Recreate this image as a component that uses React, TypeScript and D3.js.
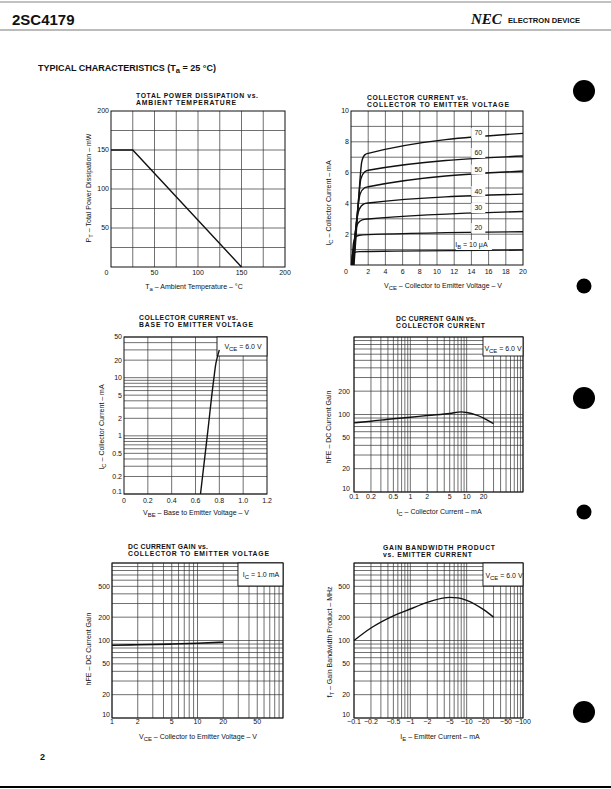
import React from 'react';
import * as d3 from 'd3';

const FONT = '"Liberation Sans", Arial, Helvetica, sans-serif';
const INK = '#111';
const GRID = '#333';

// ---------- 1: Total power dissipation vs ambient temperature ----------
const pdTemp = [0, 25, 150];
const pdPower = [150, 150, 0];
const pdXTicks = [0, 50, 100, 150, 200];
const pdYTicks = [50, 100, 150, 200];

// ---------- 2: Collector current vs collector-emitter voltage ----------
const ib10V = [0.05, 0.15, 0.4, 1, 5, 20];
const ib10I = [0, 0.65, 0.82, 0.87, 0.9, 0.97];
const ib20V = [0.1, 0.3, 0.6, 1, 2, 20];
const ib20I = [0, 1.45, 1.85, 1.93, 1.97, 2.16];
const ib30V = [0.15, 0.45, 0.8, 1.3, 2, 20];
const ib30I = [0, 1.9, 2.7, 2.93, 2.99, 3.47];
const ib40V = [0.2, 0.55, 0.95, 1.5, 2, 20];
const ib40I = [0, 2.4, 3.6, 3.97, 4.03, 4.6];
const ib50V = [0.25, 0.65, 1.05, 1.55, 2, 20];
const ib50I = [0, 2.9, 4.6, 5.0, 5.08, 6.1];
const ib60V = [0.3, 0.75, 1.15, 1.6, 2, 20];
const ib60I = [0, 3.4, 5.6, 6.05, 6.15, 7.08];
const ib70V = [0.35, 0.85, 1.25, 1.6, 2, 20];
const ib70I = [0, 4.0, 6.7, 7.15, 7.25, 8.55];
const ibNames = ['10', '20', '30', '40', '50', '60', '70'];
const ibLabelI = [1.3, 2.4, 3.7, 4.8, 6.2, 7.27, 8.57];
const vceXTicks = [0, 2, 4, 6, 8, 10, 12, 14, 16, 18, 20];
const icYTicks = [2, 4, 6, 8, 10];

// ---------- 3: Collector current vs base-emitter voltage ----------
const vbeV = [0.642, 0.7, 0.755, 0.772, 0.8];
const vbeIc = [0.1, 1.05, 10, 18, 30];
const vbeXTicks = [0, 0.2, 0.4, 0.6, 0.8, 1.0, 1.2];
const vbeXLabels = ['0', '0.2', '0.4', '0.6', '0.8', '1.0', '1.2'];
const vbeYTicks = [0.1, 0.2, 0.5, 1, 2, 5, 10, 20, 50];

// ---------- 4: DC current gain vs collector current ----------
const hfeIc = [0.1, 0.2, 0.5, 1, 2, 5, 8, 10, 15, 20, 30];
const hfeIcGain = [78, 82, 88, 92, 97, 103, 108, 106, 98, 90, 76];
const hfeIcXTicks = [0.1, 0.2, 0.5, 1, 2, 5, 10, 20];
const hfeIcYTicks = [10, 20, 50, 100, 200];

// ---------- 5: DC current gain vs collector-emitter voltage ----------
const hfeVce = [1, 2, 5, 10, 20];
const hfeVceGain = [87, 88, 90, 92, 95];
const hfeVceXTicks = [1, 2, 5, 10, 20, 50];
const hfeVceYTicks = [10, 20, 50, 100, 200, 500];

// ---------- 6: Gain bandwidth product vs emitter current ----------
const ftIe = [0.1, 0.2, 0.5, 1, 2, 4, 5, 7, 10, 20, 30];
const ftMHz = [100, 145, 208, 255, 310, 355, 360, 355, 330, 250, 200];
const ftXTicks = [0.1, 0.2, 0.5, 1, 2, 5, 10, 20, 50, 100];
const ftYTicks = [10, 20, 50, 100, 200, 500];

// ---------- helpers ----------
function logGrid(a: number, b: number) {
  const out: number[] = [];
  for (let e = Math.floor(Math.log10(a)); e <= Math.ceil(Math.log10(b)); e++) {
    for (let k = 1; k < 10; k++) {
      const v = k * Math.pow(10, e);
      if (v >= a * 0.999 && v <= b * 1.001) out.push(v);
    }
  }
  return out;
}
function linGrid(a: number, b: number, step: number) {
  return d3.range(a, b + step / 2, step);
}
const fmt = (v: number) => String(v);

type Part = string | { sub: string };
function Rich({ parts, fs }: { parts: Part[]; fs: number }) {
  const out: any[] = [];
  let down = false;
  parts.forEach((p, i) => {
    if (typeof p === 'string') {
      out.push(
        <tspan key={i} dy={down ? -fs * 0.25 : undefined}>
          {p}
        </tspan>
      );
      down = false;
    } else {
      out.push(
        <tspan key={i} fontSize={fs * 0.85} dy={fs * 0.25}>
          {p.sub}
        </tspan>
      );
      down = true;
    }
  });
  return <>{out}</>;
}

function Panel(p: any) {
  const { x, y, xGrid, yGrid } = p;
  const [xl, xr] = x.range();
  const [yb, yt] = y.range();
  const nY = p.yTicks.length;
  return (
    <g>
      {xGrid.map((v: number, i: number) => (
        <line key={'gx' + i} x1={x(v)} x2={x(v)} y1={yt} y2={yb} stroke={GRID} strokeWidth={0.7} />
      ))}
      {yGrid.map((v: number, i: number) => (
        <line key={'gy' + i} x1={xl} x2={xr} y1={y(v)} y2={y(v)} stroke={GRID} strokeWidth={0.7} />
      ))}
      <rect x={xl} y={yt} width={xr - xl} height={yb - yt} fill="none" stroke={INK} strokeWidth={1} />
      {p.children}
      {p.xTicks.map((v: number, i: number) => (
        <text key={'xt' + i} x={x(v) + (i === 0 ? p.x0dx || 0 : 0)} y={p.xTickY} dy="0.35em" textAnchor="middle" fontSize={7}>
          {p.xLabels ? p.xLabels[i] : fmt(v)}
        </text>
      ))}
      {p.yTicks.map((v: number, i: number) => (
        <text
          key={'yt' + i}
          x={p.yTickX}
          y={y(v) - (p.liftBottom && y(v) >= yb - 0.5 ? p.liftBottom : 0)}
          dy="0.35em"
          textAnchor="end"
          fontSize={7}
        >
          {p.yLabels ? p.yLabels[i] : fmt(v)}
        </text>
      ))}
      {p.title.map((t: [string, number], i: number) => (
        <text key={'ti' + i} x={p.titleX} y={p.titleY + i * 7} fontSize={6.8} fontWeight="bold" textLength={t[1]} lengthAdjust="spacing">
          {t[0]}
        </text>
      ))}
      <text transform={`translate(${p.yLabelX},${p.yLabelY}) rotate(-90)`} dy="0.35em" textAnchor="middle" fontSize={7}>
        <Rich parts={p.yLabel} fs={7} />
      </text>
      <text x={p.xLabelX} y={p.xLabelY} dy="0.35em" textAnchor="middle" fontSize={7}>
        <Rich parts={p.xLabel} fs={7} />
      </text>
    </g>
  );
}

function LegendBox({ x0, y0, x1, y1, parts, cx, cy }: any) {
  return (
    <g>
      <rect x={x0} y={y0} width={x1 - x0} height={y1 - y0} fill="#fff" stroke={INK} strokeWidth={0.9} />
      <text x={cx} y={cy} dy="0.35em" textAnchor="middle" fontSize={7}>
        <Rich parts={parts} fs={7} />
      </text>
    </g>
  );
}

export default function App() {
  // Chart 1
  const x1 = d3.scaleLinear().domain([0, 200]).range([111, 285]);
  const y1 = d3.scaleLinear().domain([0, 200]).range([267, 111]);
  const line1 = d3.line<number>().x((d, i) => x1(pdTemp[i])).y((d) => y1(d));

  // Chart 2
  const x2 = d3.scaleLinear().domain([0, 20]).range([351, 523]);
  const y2 = d3.scaleLinear().domain([0, 10]).range([265, 111]);
  const ibCurves = [
    [ib10V, ib10I],
    [ib20V, ib20I],
    [ib30V, ib30I],
    [ib40V, ib40I],
    [ib50V, ib50I],
    [ib60V, ib60I],
    [ib70V, ib70I],
  ];
  const mk2 = (vs: number[], is: number[]) =>
    d3
      .line<number>()
      .x((d, i) => x2(vs[i]))
      .y((d) => y2(d))
      .curve(d3.curveMonotoneX)(is);

  // Chart 3
  const x3 = d3.scaleLinear().domain([0, 1.2]).range([124, 267]);
  const y3 = d3.scaleLog().domain([0.1, 50]).range([494, 337]);
  const line3 = d3
    .line<number>()
    .x((d) => x3(d))
    .y((d, i) => y3(vbeIc[i]))
    .curve(d3.curveMonotoneY);

  // Chart 4
  const x4 = d3.scaleLog().domain([0.1, 100]).range([354, 523]);
  const y4 = d3.scaleLog().domain([10, 1000]).range([492, 337]);
  const line4 = d3
    .line<number>()
    .x((d, i) => x4(hfeIc[i]))
    .y((d) => y4(d))
    .curve(d3.curveMonotoneX);

  // Chart 5
  const x5 = d3.scaleLog().domain([1, 100]).range([112, 283]);
  const y5 = d3.scaleLog().domain([10, 1000]).range([718, 563]);
  const line5 = d3
    .line<number>()
    .x((d, i) => x5(hfeVce[i]))
    .y((d) => y5(d))
    .curve(d3.curveMonotoneX);

  // Chart 6
  const x6 = d3.scaleLog().domain([0.1, 100]).range([354, 523]);
  const y6 = d3.scaleLog().domain([10, 1000]).range([718, 563]);
  const line6 = d3
    .line<number>()
    .x((d, i) => x6(ftIe[i]))
    .y((d) => y6(d))
    .curve(d3.curveMonotoneX);

  const ibLabelX = x2(14.8);

  return (
    <svg
      width={611}
      height={789}
      viewBox="0 0 611 789"
      style={{ position: 'absolute', left: 0, top: 0, background: '#fff' }}
      fontFamily={FONT}
      fill={INK}
    >
      <rect x={0} y={0} width={611} height={789} fill="#fff" />
      {/* header */}
      <line x1={0} x2={611} y1={2} y2={2} stroke="#666" strokeWidth={0.8} />
      <text x={12} y={25} fontSize={15} fontWeight="bold">
        2SC4179
      </text>
      <text x={471} y={24} fontSize={15} fontWeight="bold" fontStyle="italic" fontFamily='"Liberation Serif", "Times New Roman", serif'>
        NEC
      </text>
      <text x={508} y={23} fontSize={6.5} fontWeight="bold" textLength={72} lengthAdjust="spacingAndGlyphs">
        ELECTRON DEVICE
      </text>
      <line x1={0} x2={611} y1={30} y2={30} stroke="#555" strokeWidth={0.8} />
      <text x={38} y={71} fontSize={9} fontWeight="bold">
        <Rich parts={['TYPICAL CHARACTERISTICS (T', { sub: 'a' }, ' = 25 °C)']} fs={9} />
      </text>

      {/* Chart 1 */}
      <Panel
        x={x1}
        y={y1}
        xGrid={linGrid(25, 175, 25)}
        yGrid={linGrid(25, 175, 25)}
        xTicks={pdXTicks}
        yTicks={pdYTicks}
        x0dx={-4.5}
        xTickY={273}
        yTickX={109}
        title={[
          ['TOTAL POWER DISSIPATION vs.', 122],
          ['AMBIENT TEMPERATURE', 100],
        ]}
        titleX={136}
        titleY={98}
        yLabel={['P', { sub: 'T' }, ' – Total Power Dissipation – mW']}
        yLabelX={89}
        yLabelY={188}
        xLabel={['T', { sub: 'a' }, ' – Ambient Temperature – °C']}
        xLabelX={194}
        xLabelY={287}
      >
        <path d={line1(pdPower) || ''} fill="none" stroke={INK} strokeWidth={1.4} />
      </Panel>

      {/* Chart 2 */}
      <Panel
        x={x2}
        y={y2}
        xGrid={linGrid(2, 18, 2)}
        yGrid={linGrid(1, 9, 1)}
        xTicks={vceXTicks}
        yTicks={icYTicks}
        x0dx={-5}
        xTickY={272}
        yTickX={349}
        title={[
          ['COLLECTOR CURRENT vs.', 101],
          ['COLLECTOR TO EMITTER VOLTAGE', 142],
        ]}
        titleX={367}
        titleY={100}
        yLabel={['I', { sub: 'C' }, ' – Collector Current – mA']}
        yLabelX={329}
        yLabelY={203}
        xLabel={['V', { sub: 'CE' }, ' – Collector to Emitter Voltage – V']}
        xLabelX={443}
        xLabelY={286}
      >
        {ibCurves.map((c, i) => (
          <path key={'ib' + i} d={mk2(c[0], c[1]) || ''} fill="none" stroke={INK} strokeWidth={1.4} />
        ))}
        {ibNames.map((n, i) =>
          i === 0 ? (
            <g key={'ibl' + i}>
              <rect x={x2(12.2)} y={y2(ibLabelI[i]) - 5} width={36} height={10} fill="#fff" />
              <text x={x2(14.0)} y={y2(ibLabelI[i])} dy="0.35em" textAnchor="middle" fontSize={7}>
                <Rich parts={['I', { sub: 'B' }, ' = ' + n + ' μA']} fs={7} />
              </text>
            </g>
          ) : (
            <g key={'ibl' + i}>
              <rect x={ibLabelX - 7} y={y2(ibLabelI[i]) - 5} width={14} height={10} fill="#fff" />
              <text x={ibLabelX} y={y2(ibLabelI[i])} dy="0.35em" textAnchor="middle" fontSize={7}>
                {n}
              </text>
            </g>
          )
        )}
      </Panel>

      {/* Chart 3 */}
      <Panel
        x={x3}
        y={y3}
        xGrid={linGrid(0.2, 1.0, 0.2)}
        yGrid={logGrid(0.1, 50)}
        xTicks={vbeXTicks}
        xLabels={vbeXLabels}
        yTicks={vbeYTicks}
        xTickY={501}
        yTickX={122}
        liftBottom={2}
        title={[
          ['COLLECTOR CURRENT vs.', 99],
          ['BASE TO EMITTER VOLTAGE', 114],
        ]}
        titleX={139}
        titleY={320}
        yLabel={['I', { sub: 'C' }, ' – Collector Current – mA']}
        yLabelX={102}
        yLabelY={427}
        xLabel={['V', { sub: 'BE' }, ' – Base to Emitter Voltage – V']}
        xLabelX={196}
        xLabelY={513}
      >
        <LegendBox x0={217} y0={337} x1={267} y1={356} cx={243} cy={347} parts={['V', { sub: 'CE' }, ' = 6.0 V']} />
        <path d={line3(vbeV) || ''} fill="none" stroke={INK} strokeWidth={1.4} />
      </Panel>

      {/* Chart 4 */}
      <Panel
        x={x4}
        y={y4}
        xGrid={logGrid(0.1, 100)}
        yGrid={logGrid(10, 1000)}
        xTicks={hfeIcXTicks}
        yTicks={hfeIcYTicks}
        xTickY={497}
        yTickX={350}
        liftBottom={3}
        title={[
          ['DC CURRENT GAIN vs.', 80],
          ['COLLECTOR CURRENT', 89],
        ]}
        titleX={396}
        titleY={321}
        yLabel={['h', 'FE – DC Current Gain']}
        yLabelX={329}
        yLabelY={427}
        xLabel={['I', { sub: 'C' }, ' – Collector Current – mA']}
        xLabelX={439}
        xLabelY={512}
      >
        <LegendBox x0={483} y0={337} x1={523} y1={356} cx={503} cy={349} parts={['V', { sub: 'CE' }, ' = 6.0 V']} />
        <path d={line4(hfeIcGain) || ''} fill="none" stroke={INK} strokeWidth={1.4} />
      </Panel>

      {/* Chart 5 */}
      <Panel
        x={x5}
        y={y5}
        xGrid={logGrid(1, 100)}
        yGrid={logGrid(10, 1000)}
        xTicks={hfeVceXTicks}
        yTicks={hfeVceYTicks}
        xTickY={722}
        yTickX={110}
        liftBottom={3}
        title={[
          ['DC CURRENT GAIN vs.', 80],
          ['COLLECTOR TO EMITTER VOLTAGE', 141],
        ]}
        titleX={128}
        titleY={549}
        yLabel={['h', 'FE – DC Current Gain']}
        yLabelX={89}
        yLabelY={649}
        xLabel={['V', { sub: 'CE' }, ' – Collector to Emitter Voltage – V']}
        xLabelX={198}
        xLabelY={737}
      >
        <LegendBox x0={238} y0={563} x1={283} y1={586} cx={261} cy={575} parts={['I', { sub: 'C' }, ' = 1.0 mA']} />
        <path d={line5(hfeVceGain) || ''} fill="none" stroke={INK} strokeWidth={1.6} />
      </Panel>

      {/* Chart 6 */}
      <Panel
        x={x6}
        y={y6}
        xGrid={logGrid(0.1, 100)}
        yGrid={logGrid(10, 1000)}
        xTicks={ftXTicks}
        xLabels={ftXTicks.map((v) => '−' + v)}
        yTicks={ftYTicks}
        xTickY={722}
        yTickX={350}
        liftBottom={3.5}
        title={[
          ['GAIN BANDWIDTH PRODUCT', 112],
          ['vs. EMITTER CURRENT', 89],
        ]}
        titleX={383}
        titleY={550}
        yLabel={['f', { sub: 'T' }, ' – Gain Bandwidth Product – MHz']}
        yLabelX={330}
        yLabelY={642}
        xLabel={['I', { sub: 'E' }, ' – Emitter Current – mA']}
        xLabelX={440}
        xLabelY={737}
      >
        <LegendBox x0={483} y0={563} x1={523} y1={586} cx={504} cy={576} parts={['V', { sub: 'CE' }, ' = 6.0 V']} />
        <path d={line6(ftMHz) || ''} fill="none" stroke={INK} strokeWidth={1.4} />
      </Panel>

      {/* binder holes */}
      <circle cx={584} cy={91} r={11} fill="#000" />
      <circle cx={584} cy={286} r={7.5} fill="#000" />
      <circle cx={584} cy={398} r={11} fill="#000" />
      <circle cx={584} cy={512} r={7.5} fill="#000" />
      <circle cx={584} cy={712} r={11} fill="#000" />

      {/* footer */}
      <text x={40} y={760} fontSize={9} fontWeight="bold">
        2
      </text>
      <line x1={0} x2={611} y1={787} y2={787} stroke="#000" strokeWidth={2} />
    </svg>
  );
}
